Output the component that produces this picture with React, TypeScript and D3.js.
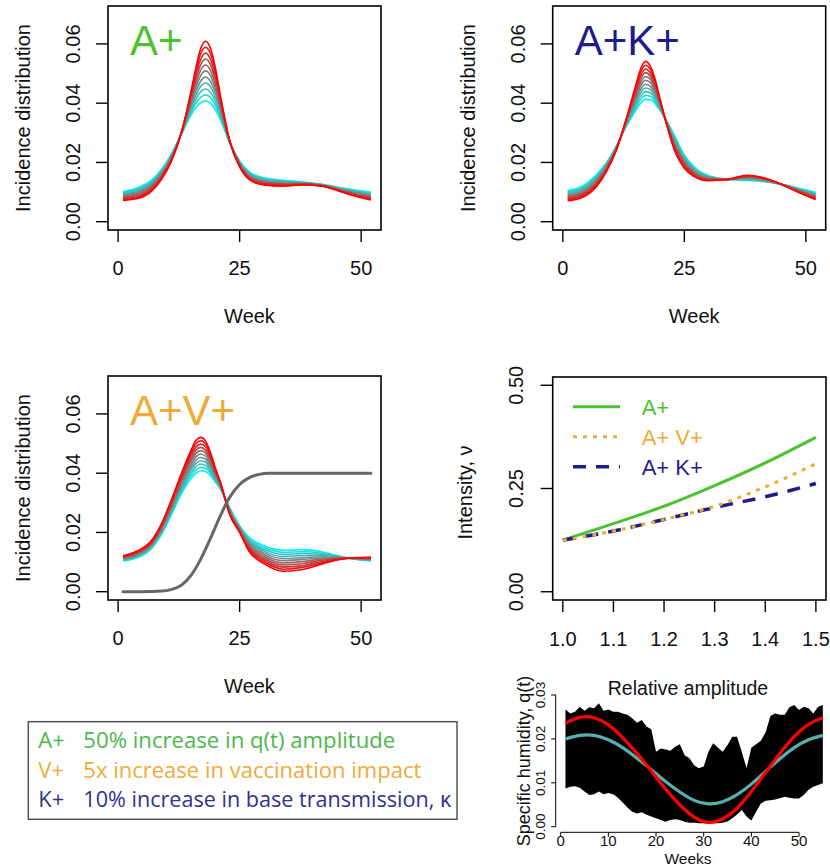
import React from 'react';
import * as d3 from 'd3';

// ---------- DATA ----------
const WEEKS = [1, 4, 7, 9, 11, 13, 15, 16, 17, 18, 19, 20, 21, 23, 25, 27, 30, 34, 38, 42, 46, 49, 52];
const AMPLITUDES = [1.0, 1.05, 1.1, 1.15, 1.2, 1.25, 1.3, 1.35, 1.4, 1.45, 1.5];
const INC_UNIT = 1e-4; // incidence values below are in units of 1e-4
// rows = WEEKS, columns = AMPLITUDES
const INC_A = [
  [102, 99, 96, 93, 90, 87, 84, 81, 78, 75, 72],
  [115, 111, 108, 104, 100, 97, 93, 89, 85, 82, 78],
  [142, 138, 135, 131, 127, 124, 120, 116, 112, 109, 105],
  [178, 175, 171, 168, 165, 162, 158, 155, 152, 148, 145],
  [230, 228, 225, 223, 220, 218, 215, 213, 210, 208, 205],
  [295, 296, 296, 297, 297, 298, 298, 299, 299, 300, 300],
  [360, 368, 376, 384, 392, 400, 408, 416, 424, 432, 440],
  [385, 399, 412, 426, 439, 453, 466, 480, 493, 507, 520],
  [402, 420, 439, 457, 475, 494, 512, 530, 548, 567, 585],
  [408, 428, 448, 468, 488, 509, 529, 549, 569, 589, 609],
  [400, 419, 437, 456, 474, 493, 511, 530, 548, 567, 585],
  [378, 392, 406, 421, 435, 449, 463, 477, 492, 506, 520],
  [345, 354, 362, 371, 379, 388, 396, 405, 413, 422, 430],
  [265, 266, 266, 267, 267, 268, 268, 269, 269, 270, 270],
  [205, 203, 201, 199, 197, 195, 193, 191, 189, 187, 185],
  [168, 165, 163, 160, 158, 155, 152, 150, 147, 145, 142],
  [148, 146, 143, 141, 138, 136, 134, 131, 129, 126, 124],
  [140, 138, 136, 134, 132, 130, 128, 126, 124, 122, 120],
  [134, 133, 132, 131, 130, 129, 128, 127, 126, 125, 124],
  [126, 125, 125, 124, 124, 123, 122, 122, 121, 121, 120],
  [114, 113, 111, 110, 108, 107, 106, 104, 103, 101, 100],
  [106, 104, 102, 100, 98, 96, 93, 91, 89, 87, 85],
  [100, 97, 95, 92, 89, 87, 84, 81, 78, 76, 73],
];
const INC_AK = [
  [105, 102, 98, 95, 91, 88, 85, 81, 78, 74, 71],
  [120, 116, 112, 109, 105, 101, 97, 93, 90, 86, 82],
  [160, 156, 152, 148, 144, 140, 136, 132, 128, 124, 120],
  [200, 197, 194, 191, 188, 185, 182, 179, 176, 173, 170],
  [255, 254, 252, 251, 249, 248, 246, 245, 243, 242, 240],
  [320, 323, 325, 328, 330, 333, 335, 338, 340, 343, 345],
  [375, 384, 392, 401, 409, 418, 426, 435, 443, 452, 460],
  [400, 412, 423, 435, 446, 458, 469, 481, 492, 504, 515],
  [413, 426, 439, 451, 464, 477, 490, 503, 515, 528, 541],
  [412, 423, 435, 446, 457, 469, 480, 491, 502, 514, 525],
  [398, 406, 414, 423, 431, 439, 447, 455, 464, 472, 480],
  [375, 379, 383, 387, 391, 395, 399, 403, 407, 411, 415],
  [350, 350, 350, 350, 350, 350, 350, 350, 350, 350, 350],
  [290, 285, 280, 275, 270, 265, 260, 255, 250, 245, 240],
  [225, 221, 216, 212, 207, 203, 198, 194, 189, 185, 180],
  [185, 182, 178, 175, 172, 169, 165, 162, 159, 155, 152],
  [155, 153, 152, 150, 148, 147, 145, 143, 141, 140, 138],
  [143, 143, 143, 143, 143, 143, 143, 143, 143, 143, 143],
  [140, 142, 143, 145, 147, 149, 150, 152, 154, 155, 157],
  [134, 135, 136, 137, 138, 140, 141, 142, 143, 144, 145],
  [123, 123, 122, 122, 121, 121, 120, 120, 119, 119, 118],
  [111, 109, 108, 106, 105, 103, 101, 100, 98, 97, 95],
  [99, 97, 94, 92, 89, 87, 85, 82, 80, 77, 75],
];
const INC_AV = [
  [104, 106, 107, 109, 111, 113, 114, 116, 118, 119, 121],
  [115, 117, 120, 122, 124, 127, 129, 131, 133, 136, 138],
  [148, 151, 153, 156, 159, 162, 164, 167, 170, 172, 175],
  [195, 199, 202, 206, 210, 214, 217, 221, 225, 228, 232],
  [262, 267, 272, 277, 282, 287, 292, 297, 302, 307, 312],
  [330, 337, 344, 350, 357, 364, 371, 378, 384, 391, 398],
  [382, 392, 401, 411, 420, 430, 440, 449, 459, 468, 478],
  [400, 411, 422, 433, 444, 455, 466, 477, 488, 499, 510],
  [408, 419, 431, 442, 453, 465, 476, 487, 498, 510, 521],
  [406, 416, 426, 437, 447, 457, 467, 477, 488, 498, 508],
  [392, 400, 408, 415, 423, 431, 439, 447, 454, 462, 470],
  [370, 375, 380, 384, 389, 394, 399, 404, 408, 413, 418],
  [347, 350, 352, 355, 357, 360, 362, 365, 367, 370, 372],
  [282, 280, 277, 275, 272, 270, 268, 265, 263, 260, 258],
  [222, 220, 218, 215, 213, 211, 209, 207, 204, 202, 200],
  [183, 178, 173, 169, 164, 159, 154, 149, 145, 140, 135],
  [155, 149, 143, 137, 131, 125, 119, 113, 107, 101, 95],
  [140, 133, 126, 119, 112, 105, 97, 90, 83, 76, 69],
  [142, 135, 129, 122, 115, 109, 102, 95, 88, 82, 75],
  [134, 130, 126, 122, 118, 114, 110, 106, 102, 98, 94],
  [118, 117, 116, 116, 115, 114, 113, 112, 112, 111, 110],
  [109, 110, 110, 111, 111, 112, 113, 113, 114, 114, 115],
  [104, 105, 106, 108, 109, 110, 111, 112, 113, 115, 116],
];
const VACC_WEEKS = [1, 5, 9, 11, 13, 15, 17, 19, 21, 23, 25, 27, 29, 31, 35, 52];
const VACC = [0, 0, 0.0002, 0.0008, 0.0022, 0.0055, 0.011, 0.018, 0.0255, 0.032, 0.0362, 0.0385, 0.0396, 0.04, 0.04, 0.04];

const INC_YTICKS = [0, 0.02, 0.04, 0.06];
const WEEK_TICKS = [0, 25, 50];

const INT_X = [1.0, 1.1, 1.2, 1.3, 1.4, 1.5];
const INT_A = [0.125, 0.165, 0.207, 0.257, 0.312, 0.374];
const INT_AV = [0.125, 0.147, 0.175, 0.207, 0.254, 0.31];
const INT_AK = [0.125, 0.147, 0.175, 0.204, 0.23, 0.262];
const INT_XTICKS = [1.0, 1.1, 1.2, 1.3, 1.4, 1.5];
const INT_YTICKS = [0, 0.25, 0.5];
const INT_LEGEND = ['A+', 'A+ V+', 'A+ K+'];

const RA_WEEKS = [1, 2, 3, 4, 5, 6, 7, 8, 9, 10, 11, 12, 13, 14, 15, 16, 17, 18, 19, 20, 21, 22, 23, 24, 25, 26, 27, 28, 29, 30, 31, 32, 33, 34, 35, 36, 37, 38, 39, 40, 41, 42, 43, 44, 45, 46, 47, 48, 49, 50, 51, 52, 53, 54, 55];
const RA_UPPER = [0.0267, 0.0258, 0.0262, 0.0273, 0.0264, 0.0272, 0.027, 0.0281, 0.0264, 0.0267, 0.0262, 0.0262, 0.0258, 0.0255, 0.0247, 0.0237, 0.0243, 0.0228, 0.0222, 0.0171, 0.0178, 0.0176, 0.0173, 0.0182, 0.0188, 0.0163, 0.0156, 0.014, 0.0133, 0.0137, 0.0171, 0.019, 0.018, 0.0171, 0.0186, 0.0205, 0.0205, 0.017, 0.0133, 0.018, 0.0188, 0.0196, 0.0215, 0.0252, 0.0258, 0.0255, 0.0255, 0.0272, 0.0277, 0.0266, 0.0273, 0.027, 0.0258, 0.0273, 0.0277];
const RA_LOWER = [0.0087, 0.0091, 0.0092, 0.0089, 0.008, 0.0072, 0.0074, 0.008, 0.0074, 0.0077, 0.0074, 0.0066, 0.0055, 0.0044, 0.0034, 0.003, 0.0033, 0.0027, 0.0023, 0.0019, 0.0015, 0.0011, 0.0015, 0.0017, 0.0015, 0.0011, 0.0009, 0.0009, 0.0008, 0.0008, 0.0008, 0.0008, 0.0008, 0.0009, 0.0012, 0.0019, 0.0028, 0.0038, 0.0023, 0.0014, 0.0034, 0.0053, 0.0059, 0.006, 0.0062, 0.0065, 0.0068, 0.0066, 0.0064, 0.0064, 0.0072, 0.0084, 0.0091, 0.0095, 0.0099];
const RA_CURVE_WEEKS = [1, 4, 7, 10, 13, 16, 19, 22, 25, 28, 31, 34, 37, 40, 43, 46, 49, 52, 55];
const RA_RED = [0.0236, 0.0249, 0.0248, 0.0232, 0.0203, 0.0167, 0.0127, 0.0086, 0.005, 0.0022, 0.001, 0.0018, 0.0042, 0.008, 0.0124, 0.0167, 0.0205, 0.0233, 0.0248];
const RA_TEAL = [0.02, 0.0208, 0.0208, 0.0198, 0.018, 0.0156, 0.013, 0.0103, 0.0079, 0.006, 0.0052, 0.0057, 0.0073, 0.0097, 0.0126, 0.0155, 0.018, 0.0198, 0.0208];
const RA_XTICKS = [0, 10, 20, 30, 40, 50];
const RA_YTICKS = [0, 0.01, 0.02, 0.03];

const NOTE_KEYS = ['A+', 'V+', 'K+'];
const NOTE_TEXTS = ['50% increase in q(t) amplitude', '5x increase in vaccination impact', '10% increase in base transmission, κ'];

// ---------- STYLE ----------
const FONT = "'Liberation Sans', Arial, Helvetica, sans-serif";
const GREEN = '#4cc230';
const ORANGE = '#ecab38';
const NAVY = '#1c1c8e';
const NOTE_COLORS = ['#4db749', '#edab3a', '#2d3192'];
const NOTE_WIDTHS = [312, 338, 368];
const ramp = d3.piecewise(d3.interpolateRgb, ['#00f0f0', '#808080', '#ff0000']);

type Pt = [number, number];

function IncPanel(props: { left: number; top: number; table: number[][]; title: string; titleColor: string; vacc?: boolean }) {
  const { left, top, table, title, titleColor, vacc } = props;
  const right = left + 273;
  const bottom = top + 224;
  const x = d3.scaleLinear().domain([-2.08, 54.08]).range([left, right]);
  const y = d3.scaleLinear().domain([-0.0028, 0.0728]).range([bottom, top]);
  const line = d3.line<Pt>().x(d => x(d[0])).y(d => y(d[1])).curve(d3.curveMonotoneX);
  const curves = AMPLITUDES.map((_, k) => WEEKS.map((w, i) => [w, table[i][k] * INC_UNIT] as Pt));
  const fmt = d3.format('.2f');
  return (
    <g>
      {curves.map((c, k) => (
        <path key={k} d={line(c) || ''} fill="none" stroke={ramp(k / (AMPLITUDES.length - 1))} strokeWidth={1.6} />
      ))}
      {vacc && (
        <path d={line(VACC_WEEKS.map((w, i) => [w, VACC[i]] as Pt)) || ''} fill="none" stroke="#666" strokeWidth={3} strokeLinecap="round" />
      )}
      <rect x={left} y={top} width={right - left} height={bottom - top} fill="none" stroke="#000" strokeWidth={1.6} />
      {INC_YTICKS.map(t => (
        <g key={t}>
          <line x1={left} x2={left - 12} y1={y(t)} y2={y(t)} stroke="#000" strokeWidth={1.4} />
          <text transform={`translate(${left - 28},${y(t)}) rotate(-90)`} textAnchor="middle" fontSize={20} fontFamily={FONT} fill="#111">{fmt(t)}</text>
        </g>
      ))}
      {WEEK_TICKS.map(t => (
        <g key={t}>
          <line x1={x(t)} x2={x(t)} y1={bottom} y2={bottom + 12} stroke="#000" strokeWidth={1.4} />
          <text x={x(t)} y={bottom + 45} textAnchor="middle" fontSize={20} fontFamily={FONT} fill="#111">{t}</text>
        </g>
      ))}
      <text x={(left + right) / 2 + 5} y={bottom + 93} textAnchor="middle" fontSize={20} fontFamily={FONT} fill="#111">Week</text>
      <text transform={`translate(${left - 78},${(top + bottom) / 2}) rotate(-90)`} textAnchor="middle" fontSize={20} fontFamily={FONT} fill="#111">Incidence distribution</text>
      <text x={left + 22} y={top + 49} fontSize={42} fontFamily={FONT} fill={titleColor}>{title}</text>
    </g>
  );
}

function IntensityPanel() {
  const left = 552.7, right = 826, top = 377, bottom = 600;
  const x = d3.scaleLinear().domain([0.98, 1.52]).range([left, right]);
  const y = d3.scaleLinear().domain([-0.02, 0.52]).range([bottom, top]);
  const line = d3.line<Pt>().x(d => x(d[0])).y(d => y(d[1])).curve(d3.curveMonotoneX);
  const series = [
    { vals: INT_A, color: GREEN, dash: undefined as string | undefined, w: 3 },
    { vals: INT_AV, color: ORANGE, dash: '4 6', w: 3 },
    { vals: INT_AK, color: NAVY, dash: '13 10', w: 3.5 },
  ];
  const drawOrder = [0, 2, 1];
  return (
    <g>
      {drawOrder.map(i => {
        const s = series[i];
        return <path key={i} d={line(INT_X.map((v, j) => [v, s.vals[j]] as Pt)) || ''} fill="none" stroke={s.color} strokeWidth={s.w} strokeDasharray={s.dash} />;
      })}
      <rect x={left} y={top} width={right - left} height={bottom - top} fill="none" stroke="#000" strokeWidth={1.6} />
      {INT_YTICKS.map(t => (
        <g key={t}>
          <line x1={left} x2={left - 12} y1={y(t)} y2={y(t)} stroke="#000" strokeWidth={1.4} />
          <text transform={`translate(${left - 29.7},${y(t)}) rotate(-90)`} textAnchor="middle" fontSize={20} fontFamily={FONT} fill="#111">{d3.format('.2f')(t)}</text>
        </g>
      ))}
      {INT_XTICKS.map(t => (
        <g key={t}>
          <line x1={x(t)} x2={x(t)} y1={bottom} y2={bottom + 12} stroke="#000" strokeWidth={1.4} />
          <text x={x(t)} y={bottom + 46} textAnchor="middle" fontSize={20} fontFamily={FONT} fill="#111">{d3.format('.1f')(t)}</text>
        </g>
      ))}
      <text transform={`translate(${left - 81},${(top + bottom) / 2 + 4}) rotate(-90)`} textAnchor="middle" fontSize={20} fontFamily={FONT} fill="#111">Intensity, ν</text>
      {series.map((s, i) => (
        <g key={i}>
          <line x1={573} x2={620} y1={406.7 + i * 30} y2={406.7 + i * 30} stroke={s.color} strokeWidth={s.w} strokeDasharray={s.dash} />
          <text x={641.7} y={406.7 + i * 30 + 8} fontSize={22} fontFamily={FONT} fill={s.color}>{INT_LEGEND[i]}</text>
        </g>
      ))}
    </g>
  );
}

function RelAmpPanel() {
  const x = d3.scaleLinear().domain([0, 50]).range([560.7, 799]);
  const y = d3.scaleLinear().domain([0, 0.03]).range([826.7, 695]);
  const axisX = 555.7, axisY = 832.3;
  const area = d3.area<number>().x((_, i) => x(RA_WEEKS[i])).y0((_, i) => y(RA_LOWER[i])).y1(d => y(d));
  const line = d3.line<Pt>().x(d => x(d[0])).y(d => y(d[1])).curve(d3.curveNatural);
  return (
    <g>
      <path d={area(RA_UPPER) || ''} fill="#000" />
      <path d={line(RA_CURVE_WEEKS.map((w, i) => [w, RA_TEAL[i]] as Pt)) || ''} fill="none" stroke="#5aafae" strokeWidth={3.2} />
      <path d={line(RA_CURVE_WEEKS.map((w, i) => [w, RA_RED[i]] as Pt)) || ''} fill="none" stroke="#ff0000" strokeWidth={3.2} />
      <line x1={axisX} x2={axisX} y1={y(0)} y2={y(0.03)} stroke="#000" strokeWidth={1} />
      {RA_YTICKS.map(t => (
        <g key={t}>
          <line x1={axisX} x2={axisX - 4.5} y1={y(t)} y2={y(t)} stroke="#000" strokeWidth={1} />
          <text transform={`translate(${545.3},${y(t)}) rotate(-90)`} textAnchor="middle" fontSize={13.5} fontFamily={FONT} fill="#111">{d3.format('.2f')(t)}</text>
        </g>
      ))}
      <line x1={x(0)} x2={x(50)} y1={axisY} y2={axisY} stroke="#000" strokeWidth={1} />
      {RA_XTICKS.map(t => (
        <g key={t}>
          <line x1={x(t)} x2={x(t)} y1={axisY} y2={axisY + 4.5} stroke="#000" strokeWidth={1} />
          <text x={x(t)} y={846} textAnchor="middle" fontSize={15} fontFamily={FONT} fill="#111">{t}</text>
        </g>
      ))}
      <text x={688} y={863.5} textAnchor="middle" fontSize={15.5} fontFamily={FONT} fill="#111">Weeks</text>
      <text transform={`translate(${530},${761}) rotate(-90)`} textAnchor="middle" fontSize={18} fontFamily={FONT} fill="#111">Specific humidity, q(t)</text>
      <text x={688} y={695} textAnchor="middle" fontSize={19.5} fontFamily={FONT} fill="#111">Relative amplitude</text>
    </g>
  );
}

function NoteBox() {
  return (
    <g>
      <rect x={28.3} y={721.7} width={428.7} height={97.6} fill="#fff" stroke="#555" strokeWidth={1.5} />
      {NOTE_KEYS.map((k, i) => (
        <g key={k} fontFamily="'Open Sans', 'Noto Sans', sans-serif" fontSize={22} fill={NOTE_COLORS[i]}>
          <text x={38.3} y={748 + i * 29.7}>{k}</text>
          <text x={83.3} y={748 + i * 29.7} textLength={NOTE_WIDTHS[i]} lengthAdjust="spacingAndGlyphs">{NOTE_TEXTS[i]}</text>
        </g>
      ))}
    </g>
  );
}

export default function App() {
  return (
    <svg width={830} height={867} viewBox="0 0 830 867" style={{ position: 'absolute', left: 0, top: 0, background: '#fff' }}>
      <rect width={830} height={867} fill="#fff" />
      <IncPanel left={108} top={6} table={INC_A} title="A+" titleColor={GREEN} />
      <IncPanel left={552.7} top={6} table={INC_AK} title="A+K+" titleColor={NAVY} />
      <IncPanel left={108} top={376} table={INC_AV} title="A+V+" titleColor={ORANGE} vacc />
      <IntensityPanel />
      <NoteBox />
      <RelAmpPanel />
    </svg>
  );
}
